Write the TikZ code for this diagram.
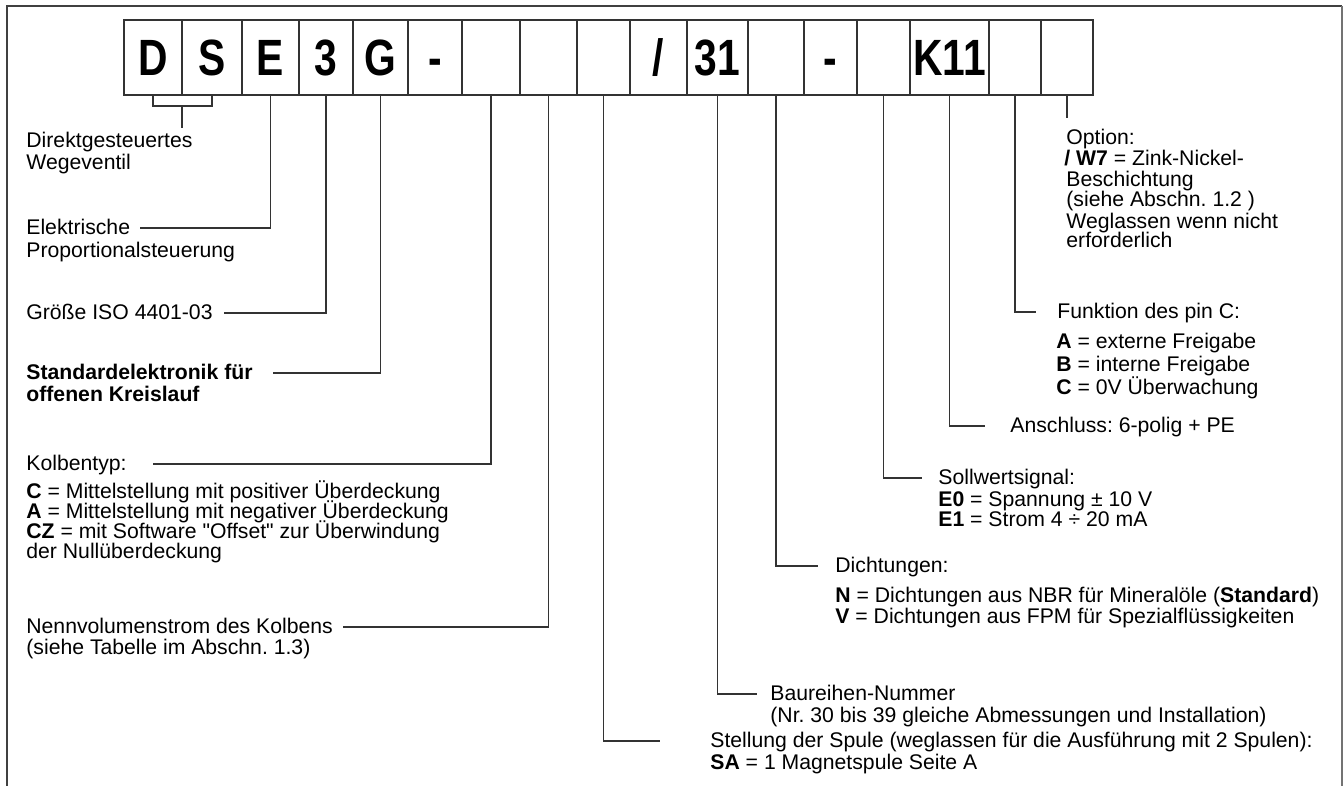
\documentclass[tikz,border=0pt]{standalone}
\usepackage{fontspec}
\setmainfont{Liberation Sans}[Ligatures=TeXOff]
\newfontfamily\cellfont[FakeStretch=0.8]{Liberation Sans}
\usetikzlibrary{positioning}
\frenchspacing

\tikzset{
  cell/.style={draw=black!80,line width=0.65pt,inner sep=0pt,minimum height=37.5pt,
    text height=18pt,text depth=0pt,font=\cellfont\bfseries\fontsize{25.5}{25.5}\selectfont},
  lbl/.style={anchor=west,inner sep=0pt,text height=8.2pt,text depth=1.4pt,
    font=\fontsize{10.6}{12}\selectfont},
  lead/.style={draw=black!80,line width=0.55pt},
  frame/.style={draw=black!75,line width=1pt}
}

\begin{document}
\begin{tikzpicture}[x=0.5pt,y=-0.5pt]

    \useasboundingbox (0,0) rectangle (1344,786);

    % Outer frame (open at the bottom)
    \draw [frame] (7,786) -- (7,6) -- (1342,6);
    \draw [frame,draw=black!55,line width=0.6pt] (1342,6) -- (1342,786);

    % Code boxes
    \foreach \i/\l/\r/\t in {1/124/182/D, 2/182/242/S, 3/242/299/E, 4/299/353/3,
        5/353/408/G, 6/408/462/-, 7/462/520/{}, 8/520/577/{}, 9/577/630/{},
        10/630/687/{/}, 11/687/748/31, 12/748/804/{}, 13/804/857/-, 14/857/910/{},
        15/910/989/K11, 16/989/1041/{}, 17/1041/1093/{}}
        \node [cell,minimum width={(\r-\l)*0.5pt}] (b\i) at ({(\l+\r)/2},57.5) {\t};

    % Left labels
    \node [lbl] (direkt) at (26,141) {Direktgesteuertes};
    \node [lbl] (wege) at (26,163) {Wegeventil};
    \node [lbl] (elek) at (26,228) {Elektrische};
    \node [lbl] (prop) at (26,251) {Proportionalsteuerung};
    \node [lbl] (iso) at (26,313) {Größe ISO 4401-03};
    \node [lbl,font=\bfseries\fontsize{10.6}{12}\selectfont] (std) at (26,373) {Standardelektronik für};
    \node [lbl,font=\bfseries\fontsize{10.6}{12}\selectfont] (kreis) at (26,395) {offenen Kreislauf};

    % Spool type
    \node [lbl] (kolben) at (26,464) {Kolbentyp:};
    \node [lbl] (kolC) at (26,492) {\textbf{C} = Mittelstellung mit positiver Überdeckung};
    \node [lbl] (kolA) at (26,512) {\textbf{A} = Mittelstellung mit negativer Überdeckung};
    \node [lbl] (kolCZ) at (26,532) {\textbf{CZ} = mit Software "Offset" zur Überwindung};
    \node [lbl] (kolN) at (26,552) {der Nullüberdeckung};

    % Nominal flow
    \node [lbl] (nenn) at (26,627) {Nennvolumenstrom des Kolbens};
    \node [lbl] (tab) at (26,648) {(siehe Tabelle im Abschn. 1.3)};

    % Right labels: option
    \node [lbl] (opt) at (1066,138) {Option:};
    \node [lbl] (optW) at (1064,159) {\textbf{/ W7} = Zink-Nickel-};
    \node [lbl] (optB) at (1066,180) {Beschichtung};
    \node [lbl] (optS) at (1066,200) {(siehe Abschn. 1.2 )};
    \node [lbl] (optL) at (1066,222) {Weglassen wenn nicht};
    \node [lbl] (optE) at (1066,241) {erforderlich};

    % Pin C
    \node [lbl] (funk) at (1057,312) {Funktion des pin C:};
    \node [lbl] (funkA) at (1056,342) {\textbf{A} = externe Freigabe};
    \node [lbl] (funkB) at (1056,365) {\textbf{B} = interne Freigabe};
    \node [lbl] (funkC) at (1056,388) {\textbf{C} = 0V Überwachung};

    % Connector
    \node [lbl] (ansch) at (1010,426) {Anschluss: 6-polig + PE};

    % Reference signal
    \node [lbl] (soll) at (938,478) {Sollwertsignal:};
    \node [lbl] (sollE0) at (938,500) {\textbf{E0} = Spannung ± 10 V};
    \node [lbl] (sollE1) at (938,520) {\textbf{E1} = Strom 4 ÷ 20 mA};

    % Seals
    \node [lbl] (dicht) at (835,566) {Dichtungen:};
    \node [lbl] (dichtN) at (835,596) {\textbf{N} = Dichtungen aus NBR für Mineralöle (\textbf{Standard})};
    \node [lbl] (dichtV) at (835,617) {\textbf{V} = Dichtungen aus FPM für Spezialflüssigkeiten};

    % Series number
    \node [lbl] (baur) at (770,694) {Baureihen-Nummer};
    \node [lbl] (baurN) at (770,716) {(Nr. 30 bis 39 gleiche Abmessungen und Installation)};

    % Solenoid position
    \node [lbl] (stell) at (710,741) {Stellung der Spule (weglassen für die Ausführung mit 2 Spulen):};
    \node [lbl] (stellSA) at (710,763) {\textbf{SA} = 1 Magnetspule Seite A};

    % Bracket under D and S
    \coordinate (brk) at (182,106);
    \coordinate (dirtop) at (182,128);
    \draw [lead] (b1.south) |- (brk) -| (b2.south);
    \draw [lead] (brk) -- (dirtop);

    % Leaders to the left
    \draw [lead] (b3.south) |- ([xshift=5pt]elek.east);
    \draw [lead] (b4.south) |- ([xshift=5.5pt]iso.east);
    \draw [lead] (b5.south) |- ([xshift=10pt]std.east);
    \draw [lead] (b7.south) |- ([xshift=13pt]kolben.east);
    \draw [lead] (b8.south) |- ([xshift=5pt]nenn.east);

    % Leaders to the right
    \draw [lead] (b9.south) |- ([xshift=-25pt]stell.west);
    \draw [lead] (b11.south) |- ([xshift=-6.5pt]baur.west);
    \draw [lead] (b12.south) |- ([xshift=-8.5pt]dicht.west);
    \draw [lead] (b14.south) |- ([xshift=-8pt]soll.west);
    \draw [lead] (b15.south) |- ([xshift=-12.5pt]ansch.west);
    \draw [lead] (b16.south) |- ([xshift=-10.5pt]funk.west);
    \coordinate (optend) at (1067,118);
    \draw [lead] (b17.south) -- (optend);

\end{tikzpicture}
\end{document}
